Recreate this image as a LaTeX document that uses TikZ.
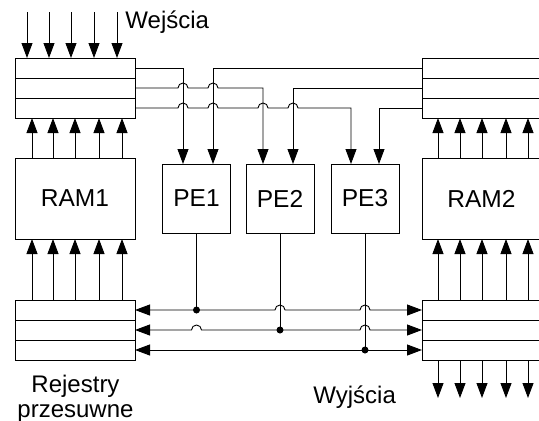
\documentclass[tikz,border=0pt]{standalone}
\usepackage{fontspec}
\setmainfont{Liberation Sans}
\usetikzlibrary{arrows.meta}
\begin{document}
\begin{tikzpicture}[x=1pt,y=-1pt,line width=0.9pt,
  reg/.style={draw,inner sep=0pt,outer sep=0pt,minimum width=120pt,minimum height=20pt},
  regr/.style={reg,minimum width=119pt},
  unitbox/.style={draw,inner sep=0pt,outer sep=0pt,font=\fontsize{24.5}{28}\selectfont},
  arr/.style={-{Triangle[length=15pt,width=11pt]}},
  dbl/.style={{Triangle[length=15pt,width=11pt]}-{Triangle[length=15pt,width=11pt]}},
  lbl/.style={font=\fontsize{24}{25}\selectfont,inner sep=0pt}]
\useasboundingbox (0,0) rectangle (539,421);
\clip (0,0) rectangle (539,421);
% registers
\node[reg] (Lt1) at (75,68) {};
\node[reg] (Lt2) at (75,88) {};
\node[reg] (Lt3) at (75,108) {};
\node[regr] (Rt1) at (481.5,68) {};
\node[regr] (Rt2) at (481.5,88) {};
\node[regr] (Rt3) at (481.5,108) {};
\node[reg] (Lb1) at (75,310) {};
\node[reg] (Lb2) at (75,330) {};
\node[reg] (Lb3) at (75,350) {};
\node[regr] (Rb1) at (481.5,310) {};
\node[regr] (Rb2) at (481.5,330) {};
\node[regr] (Rb3) at (481.5,350) {};
% memories and PEs
\node[unitbox,minimum width=120pt,minimum height=81pt] (RAM1) at (75,198.5) {RAM1};
\node[unitbox,minimum width=119pt,minimum height=81pt] (RAM2) at (481.5,198.5) {RAM2};
\node[unitbox,minimum width=68pt,minimum height=69pt] (PE1) at (196.5,198.5) {PE1};
\node[unitbox,minimum width=68pt,minimum height=69pt] (PE2) at (280,198.5) {PE2};
\node[unitbox,minimum width=68pt,minimum height=69pt] (PE3) at (365,198.5) {PE3};
% inputs
\foreach \x in {27,49,71,94,117} {
  \coordinate (in) at (\x,12);
  \draw[arr] (in) -- (in |- Lt1.north);
}
% outputs
\foreach \x in {438,460,482,506,528} {
  \coordinate (out) at (\x,398);
  \draw[arr] (out |- Rb3.south) -- (out);
}
% register <-> RAM
\foreach \o in {17,38,60,84,107} {
  \draw[arr] ([xshift=\o pt]RAM1.north west) -- ([xshift=\o pt]Lt3.south west);
  \draw[arr] ([xshift=\o pt]Lb1.north west) -- ([xshift=\o pt]RAM1.south west);
}
\foreach \o in {16,38,60,84,106} {
  \draw[arr] ([xshift=\o pt]RAM2.north west) -- ([xshift=\o pt]Rt3.south west);
  \draw[arr] ([xshift=\o pt]Rb1.north west) -- ([xshift=\o pt]RAM2.south west);
}
% top connections to PEs
\draw[arr] (Lt1.east) -| ([xshift=-13.5pt]PE1.north);
\draw[arr] (Rt1.west) -| ([xshift=16.5pt]PE1.north);
\draw[arr] (Lt2.east) -- (178,88) arc[start angle=180,end angle=0,radius=5pt]
  -- (208,88) arc[start angle=180,end angle=0,radius=5pt]
  -- (263,88) -- ([xshift=-17pt]PE2.north);
\draw[arr] (Rt2.west) -| ([xshift=13pt]PE2.north);
\draw[arr] (Lt3.east) -- (178,108) arc[start angle=180,end angle=0,radius=5pt]
  -- (208,108) arc[start angle=180,end angle=0,radius=5pt]
  -- (258,108) arc[start angle=180,end angle=0,radius=5pt]
  -- (288,108) arc[start angle=180,end angle=0,radius=5pt]
  -- (351,108) -- ([xshift=-14pt]PE3.north);
\draw[arr] (Rt3.west) -| ([xshift=14pt]PE3.north);
% bottom bus
\draw[dbl] (Lb1.east) -- (275,310) arc[start angle=180,end angle=0,radius=5pt]
  -- (360,310) arc[start angle=180,end angle=0,radius=5pt] -- (Rb1.west);
\draw[dbl] (Lb2.east) -- (191.5,330) arc[start angle=180,end angle=0,radius=5pt]
  -- (360,330) arc[start angle=180,end angle=0,radius=5pt] -- (Rb2.west);
\draw[dbl] (Lb3.east) -- (Rb3.west);
\draw (PE1.south) -- (PE1.south |- Lb1.east) coordinate (d1);
\draw (PE2.south) -- (PE2.south |- Lb2.east) coordinate (d2);
\draw (PE3.south) -- (PE3.south |- Lb3.east) coordinate (d3);
\fill (d1) circle[radius=3.5pt];
\fill (d2) circle[radius=3.5pt];
\fill (d3) circle[radius=3.5pt];
% labels
\node[lbl,anchor=base west] (win) at (125,28) {Wejścia};
\node[lbl,anchor=base west] (wout) at (313,403) {Wyjścia};
\node[lbl,align=center] (rej) at (75.5,398.5) {Rejestry\\przesuwne};
\end{tikzpicture}
\end{document}
